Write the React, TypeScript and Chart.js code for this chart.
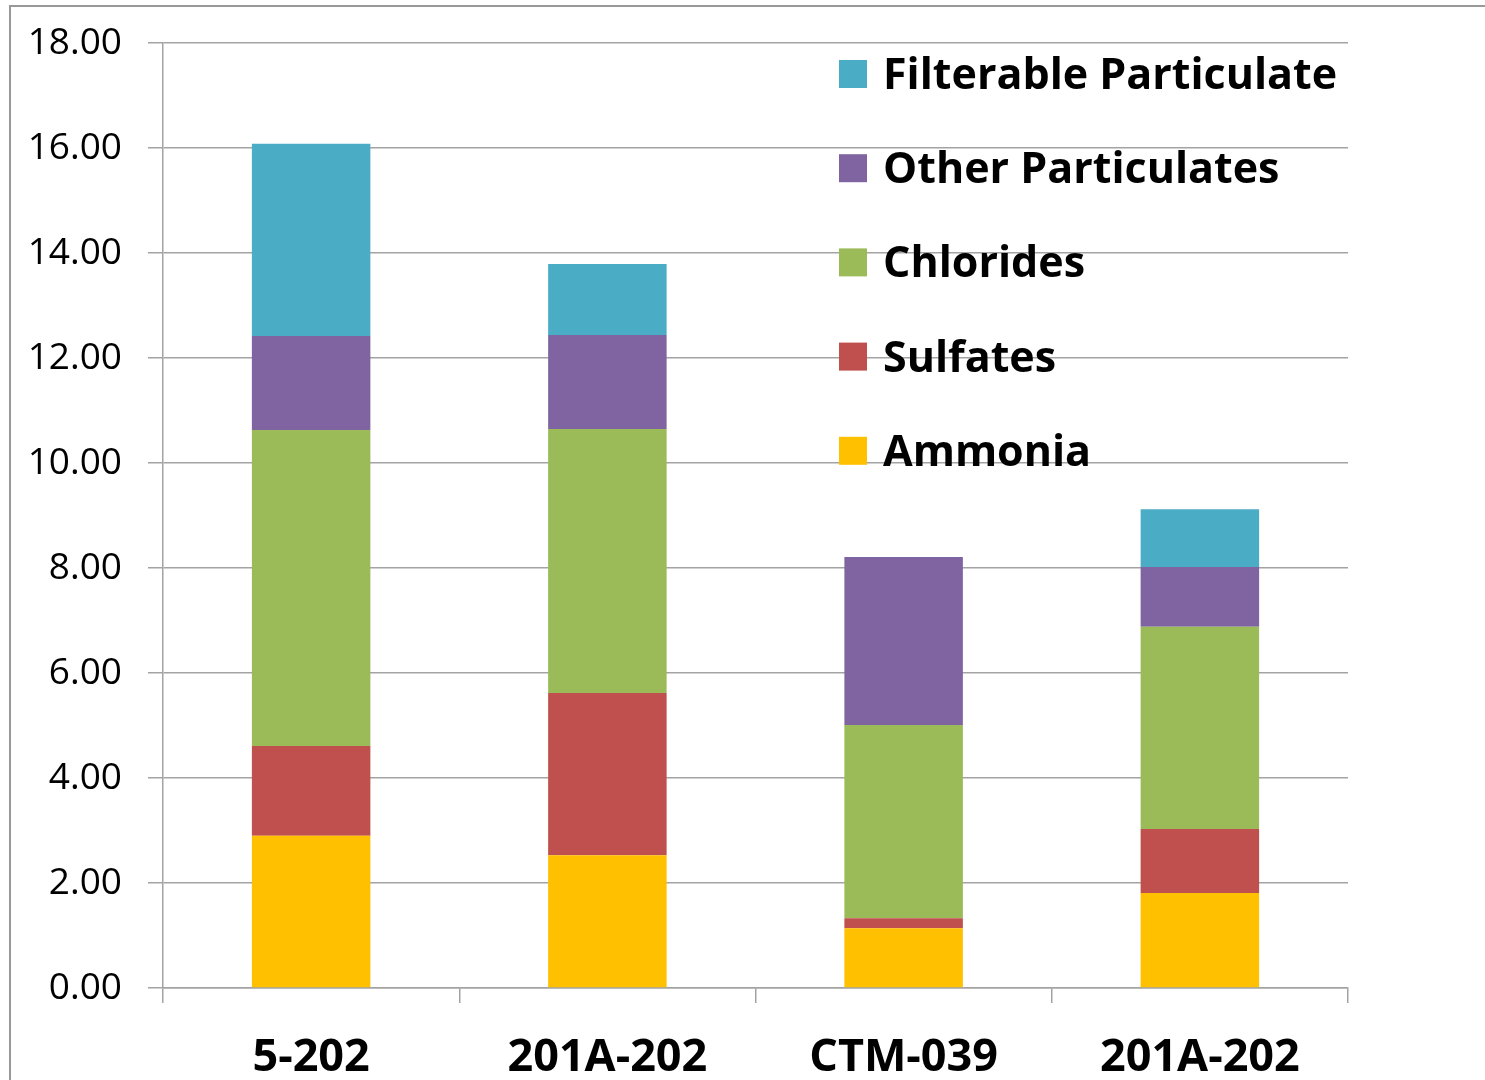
import React, { useEffect, useRef } from "react";
import { Chart, registerables } from "chart.js";

Chart.register(...registerables);

const categories = ["5-202", "201A-202", "CTM-039", "201A-202"];
const ammonia = [2.9, 2.53, 1.14, 1.81];
const sulfates = [1.71, 3.09, 0.19, 1.22];
const chlorides = [6.02, 5.03, 3.68, 3.85];
const otherParticulates = [1.79, 1.79, 3.2, 1.14];
const filterableParticulate = [3.66, 1.35, 0, 1.1];

const seriesNames = ["Ammonia", "Sulfates", "Chlorides", "Other Particulates", "Filterable Particulate"];
const seriesColors = ["#FFC000", "#C0504D", "#9BBB59", "#8064A2", "#4BACC6"];

const yMin = 0;
const yMax = 18;
const yStep = 2;

const GRID = "#a3a3a3";

const insideLegend = {
  id: "insideLegend",
  afterDraw(chart: any) {
    const { ctx, chartArea } = chart;
    const items = chart.data.datasets
      .map((d: any) => ({ label: d.label, color: d.backgroundColor }))
      .reverse();
    const x0 = chartArea.left + 676;
    const y0 = chartArea.top + 17;
    const step = 94.2;
    ctx.save();
    items.forEach((it: any, i: number) => {
      const top = y0 + i * step;
      ctx.fillStyle = it.color;
      ctx.fillRect(x0, top, 28, 28);
      ctx.fillStyle = "#000";
      ctx.font = "bold 43px 'Open Sans'";
      ctx.textBaseline = "alphabetic";
      ctx.textAlign = "left";
      ctx.fillText(it.label, x0 + 44, top + 29);
    });
    ctx.restore();
  },
};

export default function App() {
  const ref = useRef<HTMLCanvasElement | null>(null);

  useEffect(() => {
    if (!ref.current) return;
    const series = [ammonia, sulfates, chlorides, otherParticulates, filterableParticulate];
    const chart = new Chart(ref.current, {
      type: "bar",
      data: {
        labels: categories,
        datasets: series.map((data, i) => ({
          label: seriesNames[i],
          data,
          backgroundColor: seriesColors[i],
          borderWidth: 0,
          categoryPercentage: 1,
          barPercentage: 0.4,
        })),
      },
      options: {
        responsive: false,
        animation: false,
        devicePixelRatio: 1,
        layout: { padding: { top: 43, right: 137, left: 0, bottom: 0 } },
        plugins: {
          legend: { display: false },
          tooltip: { enabled: false },
        },
        scales: {
          x: {
            stacked: true,
            grid: {
              offset: true,
              drawOnChartArea: false,
              drawTicks: true,
              tickLength: 15,
              color: GRID,
              lineWidth: 1.5,
            },
            border: { color: GRID, width: 1.5 },
            ticks: {
              color: "#000",
              font: { family: "'Open Sans'", size: 45, weight: "bold" },
              padding: 28,
              maxRotation: 0,
              autoSkip: false,
            },
            afterFit: (s: any) => {
              s.height = 92;
              s.paddingLeft = 0;
              s.paddingRight = 0;
            },
          },
          y: {
            stacked: true,
            min: yMin,
            max: yMax,
            ticks: {
              stepSize: yStep,
              color: "#000",
              font: { family: "'Open Sans'", size: 37 },
              padding: 26,
              callback: (v: any) => Number(v).toFixed(2),
            },
            grid: { color: GRID, tickLength: 15, lineWidth: 1.5 },
            border: { color: GRID, width: 1.5 },
            afterFit: (s: any) => {
              s.width = 163;
              s.paddingTop = 0;
              s.paddingBottom = 0;
            },
          },
        },
      },
      plugins: [insideLegend],
    });
    return () => chart.destroy();
  }, []);

  return (
    <div style={{ position: "fixed", left: 0, top: 0, width: 1485, height: 1080, background: "#fff", overflow: "hidden" }}>
      <div
        style={{
          position: "absolute",
          left: 9,
          top: 5,
          width: 1600,
          height: 1200,
          borderLeft: "2px solid #999",
          borderTop: "2px solid #999",
        }}
      />
      <canvas ref={ref} width={1485} height={1080} style={{ position: "absolute", left: 0, top: 0, width: 1485, height: 1080 }} />
    </div>
  );
}
